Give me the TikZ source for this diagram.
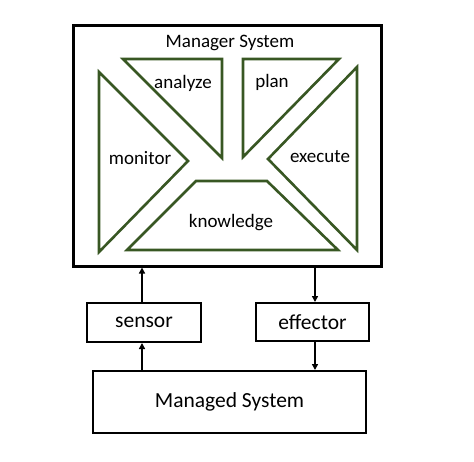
\documentclass[tikz,border=0pt]{standalone}
\usepackage{fontspec}
\setmainfont{Carlito}
\usetikzlibrary{arrows.meta,calc}
\definecolor{mgreen}{RGB}{56,87,35}
\begin{document}
\begin{tikzpicture}[x=1pt,y=-1pt,
  box/.style={draw=black,line width=2pt,rectangle,inner sep=0pt},
  part/.style={draw=mgreen,line width=2.6pt,line join=miter},
  lbl/.style={font=\fontsize{19}{22}\selectfont,inner sep=0pt},
  blbl/.style={font=\fontsize{21.5}{25}\selectfont},
  arr/.style={line width=1.5pt,-{Triangle[length=6pt,width=6pt]}}]
\useasboundingbox (0,0) rectangle (474,461);
\node[box,line width=3pt,minimum width=308pt,minimum height=241pt] (mgr) at (227,145.5) {};
\node[lbl] (mgrt) at (230,43) {Manager System};
% analyze
\draw[part] (123,59) -- (222,59) -- (222,158) -- cycle;
\node[lbl] (an) at (183,83) {analyze};
% plan
\draw[part] (243,59) -- (339,59) -- (243,157) -- cycle;
\node[lbl] (pl) at (272,82) {plan};
% monitor
\draw[part] (99,72) -- (188,161) -- (99,252) -- cycle;
\node[lbl] (mo) at (140,158) {monitor};
% execute
\draw[part] (357,67) -- (268,159) -- (357,250) -- cycle;
\node[lbl] (ex) at (320,157) {execute};
% knowledge
\draw[part] (196,181) -- (267,181) -- (338,250) -- (127,250) -- cycle;
\node[lbl] (kn) at (231,223) {knowledge};
% lower boxes
\node[box,minimum width=114pt,minimum height=39pt,blbl] (sen) at (144,322.5) {sensor};
\node[box,minimum width=113pt,minimum height=38pt,blbl] (eff) at (312.5,322) {effector};
\node[box,minimum width=273pt,minimum height=62pt,blbl] (man) at (229.5,402) {Managed System};
% arrow anchors
\coordinate (sn) at ($(sen.north)+(-2,0)$);
\coordinate (ss) at ($(sen.south)+(-2,0)$);
\coordinate (en) at ($(eff.north)+(2.5,0)$);
\coordinate (es) at ($(eff.south)+(2.5,0)$);
% arrows
\draw[arr] (sn) -- (sn |- mgr.south);
\draw[arr] (ss |- man.north) -- (ss);
\draw[arr] (en |- mgr.south) -- (en);
\draw[arr] (es) -- (es |- man.north);
\end{tikzpicture}
\end{document}
